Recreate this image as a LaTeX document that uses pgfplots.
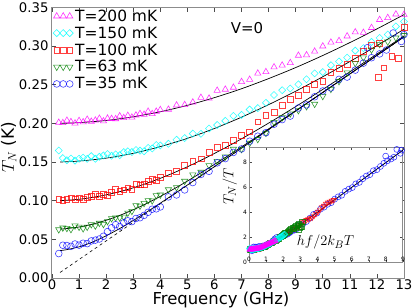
\documentclass[border=0pt]{standalone}
\usepackage{fontspec}
\setmainfont{DejaVu Sans}
\usepackage{pgfplots}
\usepackage{pgfplotstable}
\pgfplotsset{compat=1.18}
\definecolor{cmag}{rgb}{1,0,1}
\definecolor{ccyan}{rgb}{0,1,1}
\definecolor{cred}{rgb}{1,0,0}
\definecolor{cgreen}{rgb}{0,0.5,0}
\definecolor{cblue}{rgb}{0,0,1}

\pgfplotstableread{
f t
0.25 0.2012
0.40 0.2007
0.55 0.2038
0.70 0.2020
0.85 0.2002
1.00 0.2035
1.15 0.2018
1.30 0.2051
1.45 0.2025
1.60 0.2040
1.75 0.2064
1.90 0.2030
2.05 0.2065
2.20 0.2061
2.35 0.2058
2.50 0.2095
2.65 0.2072
2.80 0.2101
2.95 0.2078
3.10 0.2106
3.25 0.2125
3.40 0.2115
3.55 0.2155
3.70 0.2124
3.85 0.2155
4.00 0.2176
4.30 0.2181
4.60 0.2236
4.90 0.2241
5.20 0.2274
5.50 0.2334
5.80 0.2324
6.10 0.2426
6.40 0.2440
6.70 0.2465
7.00 0.2539
7.30 0.2568
7.60 0.2648
7.90 0.2667
8.20 0.2729
8.50 0.2752
8.80 0.2784
9.10 0.2879
9.40 0.2885
9.70 0.2932
10.00 0.2999
10.30 0.3049
10.60 0.3069
10.90 0.3129
11.20 0.3181
11.50 0.3175
11.80 0.3238
12.10 0.3342
12.40 0.3367
12.70 0.3413
13.00 0.3408
}\dA

\pgfplotstableread{
f t
0.25 0.1650
0.40 0.1552
0.55 0.1524
0.70 0.1546
0.85 0.1519
1.00 0.1543
1.15 0.1557
1.30 0.1542
1.45 0.1577
1.60 0.1543
1.75 0.1569
1.90 0.1586
2.05 0.1604
2.20 0.1582
2.35 0.1600
2.50 0.1589
2.65 0.1629
2.80 0.1639
2.95 0.1630
3.10 0.1656
3.25 0.1648
3.40 0.1640
3.55 0.1683
3.70 0.1676
3.85 0.1720
4.00 0.1715
4.30 0.1737
4.60 0.1789
4.90 0.1811
5.20 0.1868
5.50 0.1866
5.80 0.1934
6.10 0.1980
6.40 0.2033
6.70 0.2097
7.00 0.2111
7.30 0.2180
7.60 0.2198
7.90 0.2267
8.20 0.2368
8.50 0.2430
8.80 0.2452
9.10 0.2506
9.40 0.2572
9.70 0.2648
10.00 0.2664
10.30 0.2753
10.60 0.2802
10.90 0.2851
11.20 0.2942
11.50 0.2974
11.80 0.3055
12.10 0.3107
12.40 0.3151
12.70 0.3255
13.00 0.3319
}\dB

\pgfplotstableread{
f t
0.25 0.1021
0.40 0.1003
0.55 0.1016
0.70 0.1039
0.85 0.1014
1.00 0.1039
1.15 0.1015
1.30 0.1042
1.45 0.1060
1.60 0.1079
1.75 0.1058
1.90 0.1078
2.05 0.1069
2.20 0.1111
2.35 0.1144
2.50 0.1117
2.65 0.1141
2.80 0.1166
2.95 0.1152
3.10 0.1208
3.25 0.1205
3.40 0.1213
3.55 0.1251
3.70 0.1280
3.85 0.1260
4.00 0.1300
4.30 0.1353
4.60 0.1377
4.90 0.1454
5.20 0.1513
5.50 0.1543
5.80 0.1626
6.10 0.1690
6.40 0.1716
6.70 0.1783
7.00 0.1851
7.30 0.1891
7.60 0.2022
7.90 0.2103
8.20 0.2146
8.50 0.2230
8.80 0.2315
9.10 0.2360
9.40 0.2446
9.70 0.2503
10.00 0.2550
10.30 0.2658
10.60 0.2716
10.90 0.2764
11.20 0.2843
11.50 0.2932
11.80 0.3012
12.05 0.2600
12.10 0.3040
12.25 0.2720
12.55 0.2865
12.80 0.2840
13.00 0.3240
}\dC

\pgfplotstableread{
f t
0.25 0.0627
0.40 0.0650
0.55 0.0644
0.70 0.0630
0.85 0.0677
1.00 0.0660
1.15 0.0640
1.30 0.0661
1.45 0.0693
1.60 0.0676
1.75 0.0711
1.90 0.0696
2.05 0.0733
2.20 0.0771
2.35 0.0780
2.50 0.0780
2.65 0.0791
2.80 0.0843
2.95 0.0865
3.10 0.0939
3.25 0.0933
3.40 0.0968
3.55 0.1004
3.70 0.1001
3.85 0.1068
4.00 0.1076
4.30 0.1144
4.60 0.1172
4.90 0.1254
5.20 0.1337
5.50 0.1371
5.80 0.1456
6.10 0.1512
6.40 0.1570
6.70 0.1668
7.00 0.1666
7.30 0.1746
7.60 0.1795
7.90 0.1876
8.20 0.2016
8.50 0.2076
8.80 0.2127
9.10 0.2169
9.40 0.2220
9.70 0.2251
10.00 0.2352
10.30 0.2444
10.60 0.2545
10.90 0.2657
11.20 0.2779
11.50 0.2851
11.80 0.2953
12.10 0.3025
12.40 0.3057
12.70 0.3108
13.00 0.3140
}\dD

\pgfplotstableread{
f t
0.25 0.0316
0.40 0.0424
0.55 0.0420
0.70 0.0410
0.85 0.0440
1.00 0.0425
1.15 0.0450
1.30 0.0445
1.45 0.0480
1.60 0.0490
1.75 0.0505
1.90 0.0540
2.05 0.0600
2.20 0.0650
2.35 0.0690
2.50 0.0665
2.65 0.0715
2.80 0.0740
2.95 0.0730
3.10 0.0770
3.25 0.0780
3.40 0.0810
3.55 0.0850
3.70 0.0890
3.85 0.0895
4.00 0.0920
4.30 0.1050
4.60 0.1075
4.90 0.1140
5.20 0.1235
5.50 0.1340
5.80 0.1380
6.10 0.1490
6.40 0.1545
6.70 0.1625
7.00 0.1670
7.30 0.1770
7.60 0.1835
7.90 0.1880
8.20 0.1990
8.50 0.2050
8.80 0.2095
9.10 0.2200
9.40 0.2240
9.70 0.2345
10.00 0.2420
10.30 0.2460
10.60 0.2570
10.90 0.2600
11.20 0.2690
11.50 0.2780
11.65 0.2980
11.80 0.2850
12.10 0.2900
12.35 0.2950
12.60 0.3170
12.90 0.3060
13.00 0.3150
}\dE

\pgfplotstableread{
f t
0.3 0.2001
1 0.2010
2 0.2038
3 0.2086
4 0.2151
5 0.2234
6 0.2334
7 0.2449
8 0.2580
9 0.2723
10 0.2879
11 0.3046
12 0.3223
13 0.3408
}\lA

\pgfplotstableread{
f t
0.3 0.1501
1 0.1513
2 0.1551
3 0.1613
4 0.1700
5 0.1807
6 0.1935
7 0.2081
8 0.2243
9 0.2417
10 0.2604
11 0.2801
12 0.3006
13 0.3219
}\lB

\pgfplotstableread{
f t
0.3 0.1002
0.5 0.1005
1 0.1019
1.5 0.1043
2 0.1076
2.5 0.1117
3 0.1167
3.5 0.1225
4 0.1290
4.5 0.1362
5 0.1439
5.5 0.1523
6 0.1612
6.5 0.1704
7 0.1801
7.5 0.1901
8 0.2004
8.5 0.2110
9 0.2218
9.5 0.2328
10 0.2440
10.5 0.2553
11 0.2667
11.5 0.2782
12 0.2898
12.5 0.3015
13 0.3132
}\lC

\pgfplotstableread{
f t
0.3 0.0633
0.5 0.0638
1 0.0660
1.5 0.0697
2 0.0747
2.5 0.0810
3 0.0883
3.5 0.0965
4 0.1056
4.5 0.1152
5 0.1254
5.5 0.1361
6 0.1470
6.5 0.1582
7 0.1696
7.5 0.1812
8 0.1929
8.5 0.2046
9 0.2165
10 0.2402
11 0.2641
12 0.2881
13 0.3120
}\lD

\pgfplotstableread{
f t
0.3 0.0355
0.5 0.0364
1 0.0403
1.5 0.0465
2 0.0546
2.5 0.0640
3 0.0744
3.5 0.0854
4 0.0968
4.5 0.1085
5 0.1203
6 0.1441
7 0.1680
8 0.1920
9 0.2160
10 0.2400
11 0.2640
12 0.2880
13 0.3120
}\lE

\pgfplotsset{
  mA/.style={only marks, color=cmag, mark=triangle, mark size=3.6pt, mark options={line width=0.6pt, draw opacity=0.8, fill=none}},
  mB/.style={only marks, color=ccyan, mark=square, mark size=2.5pt, mark options={rotate=45, line width=0.6pt, draw opacity=0.8, fill=none}},
  mC/.style={only marks, color=cred, mark=square, mark size=2.9pt, mark options={line width=0.6pt, draw opacity=0.75, fill=none}},
  mD/.style={only marks, color=cgreen, mark=triangle, mark size=3.6pt, mark options={rotate=180, line width=0.6pt, draw opacity=0.8, fill=none}},
  mE/.style={only marks, color=cblue, mark=o, mark size=3.4pt, mark options={line width=0.6pt, draw opacity=0.75, fill=none}},
  fitline/.style={black, line width=0.7bp, smooth, forget plot},
}

\begin{document}
\begin{tikzpicture}
\begin{axis}[
  at={(0,0)}, anchor=south west,
  scale only axis, width=352bp, height=270.5bp,
  xmin=0, xmax=13, ymin=0, ymax=0.35,
  xtick={0,1,2,3,4,5,6,7,8,9,10,11,12,13},
  ytick={0,0.05,0.10,0.15,0.20,0.25,0.30,0.35},
  tick align=inside, xtick pos=both, ytick pos=both,
  xticklabel pos=lower, yticklabel pos=left,
  major tick length=4bp,
  axis line style={black!45, line width=1bp},
  every tick/.style={black!70, line width=0.6bp},
  tick label style={font=\fontsize{13.3}{15}\selectfont},
  /pgf/number format/assume math mode=true,
  xticklabel style={yshift=1.5bp},
  yticklabel style={/pgf/number format/fixed, /pgf/number format/fixed zerofill, /pgf/number format/precision=2},
  xlabel={Frequency (GHz)},
  xlabel style={at={(axis description cs:0.48,0)}, anchor=center, yshift=-21.5bp, font=\fontsize{16.5}{18}\selectfont},
  ylabel={$T_N$ (K)},
  ylabel style={at={(axis description cs:-0.123,0.483)}, anchor=center, font=\fontsize{17}{19}\selectfont},
  legend style={at={(0,1)}, anchor=north west, draw=none, fill=none,
    font=\fontsize{15.5}{17.5}\selectfont, inner xsep=1bp, inner ysep=0bp, row sep=0bp,
    cells={anchor=west}},
  legend image code/.code={\draw[#1, only marks] plot coordinates {(0bp,0bp) (6.5bp,0bp) (13bp,0bp)};},
]
\addplot[mA] table {\dA}; \addlegendentry{T=200 mK}
\addplot[mB] table {\dB}; \addlegendentry{T=150 mK}
\addplot[mC] table {\dC}; \addlegendentry{T=100 mK}
\addplot[mD] table {\dD}; \addlegendentry{T=63 mK}
\addplot[mE] table {\dE}; \addlegendentry{T=35 mK}
\addplot[fitline] table {\lA};
\addplot[fitline] table {\lB};
\addplot[fitline] table {\lC};
\addplot[fitline] table {\lD};
\addplot[fitline] table {\lE};
\addplot[black, line width=0.6bp, dash pattern=on 3bp off 3bp, forget plot] coordinates {(0.3,0.0072) (13,0.312)};
\node[font=\fontsize{15}{17}\selectfont] at (axis cs:7.2,0.3234) {V=0};
\end{axis}

\begin{axis}[
  at={(197bp,16bp)}, anchor=south west,
  scale only axis, width=154bp, height=115bp,
  xmin=0, xmax=9, ymin=0, ymax=9.25,
  xtick={0,1,2,3,4,5,6,7,8,9}, ytick={0,2,4,6,8},
  axis background/.style={fill=white},
  tick align=inside, xtick pos=both, ytick pos=both,
  xticklabel pos=lower, yticklabel pos=left,
  major tick length=2.5bp,
  axis line style={black!45, line width=1bp},
  every tick/.style={black!70, line width=0.5bp},
  tick label style={font=\fontsize{6}{7}\selectfont},
  /pgf/number format/assume math mode=true,
  xticklabel style={yshift=8.5bp},
  yticklabel style={xshift=1.5bp},
  ylabel={$T_N/T$},
  ylabel style={at={(axis description cs:-0.125,0.655)}, anchor=center, font=\fontsize{15}{17}\selectfont},
]
\addplot[mE, mark size=3pt] table[x expr=\thisrow{f}*0.024/0.035, y expr=\thisrow{t}/0.035] {\dE};
\addplot[mD, color=cred, mark size=3pt] table[x expr=\thisrow{f}*0.024/0.063, y expr=\thisrow{t}/0.063] {\dD};
\addplot[mC, color=cgreen, mark size=2.6pt] table[x expr=\thisrow{f}*0.024/0.1, y expr=\thisrow{t}/0.1] {\dC};
\addplot[mB, mark size=2.3pt] table[x expr=\thisrow{f}*0.024/0.15, y expr=\thisrow{t}/0.15] {\dB};
\addplot[mA, mark size=3pt] table[x expr=\thisrow{f}*0.024/0.2, y expr=\thisrow{t}/0.2] {\dA};
\addplot[black, line width=0.8bp, smooth] coordinates {
(0,1.0000) (0.25,1.0207) (0.5,1.0820) (0.75,1.1808) (1,1.3130) (1.25,1.4736) (1.5,1.6572)
(1.75,1.8590) (2,2.0746) (2.5,2.5339) (3,3.0149) (3.5,3.5064) (4,4.0027) (5,5.0005)
(6,6.0001) (7,7) (8,8) (9,9)};
\node[font=\fontsize{15}{17}\selectfont] at (axis cs:4.47,1.58) {$hf/2k_BT$};
\end{axis}
\pgfresetboundingbox
\path[use as bounding box] (-52bp,-30bp) rectangle (363bp,278bp);
\end{tikzpicture}
\end{document}
